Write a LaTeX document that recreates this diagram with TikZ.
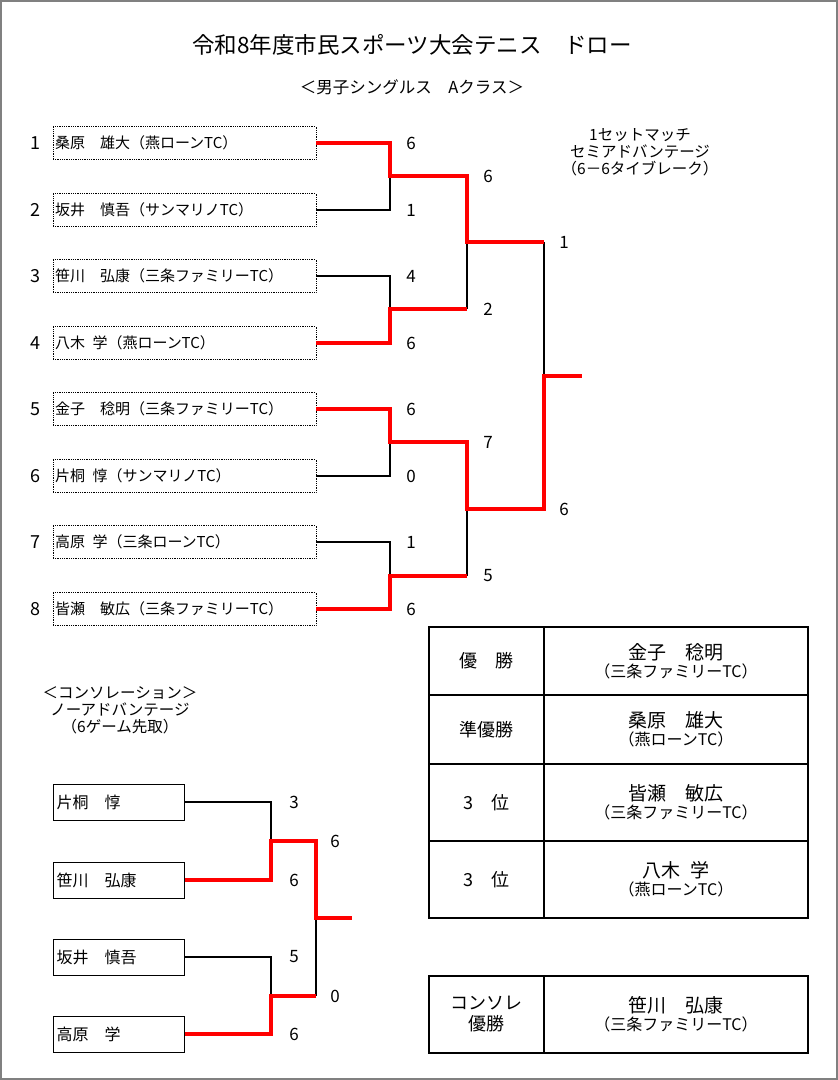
\documentclass[tikz,border=0pt]{standalone}
\usepackage{fontspec}
\setmainfont{Noto Sans CJK JP}
\begin{document}
\begin{tikzpicture}[x=1pt,y=-1pt,
  pl/.style={draw,densely dotted,line width=0.8pt,minimum width=263pt,minimum height=33pt,inner sep=0pt,font=\fontsize{15}{17}\selectfont,text width=259pt,align=left},
  cb/.style={draw,line width=1pt,minimum width=131pt,minimum height=36pt,inner sep=0pt,font=\fontsize{16}{18}\selectfont,text width=124pt,align=left},
  bl/.style={line width=1.6pt},
  rd/.style={line width=3.2pt,red},
  sc/.style={font=\fontsize{17}{19}\selectfont},
  tx/.style={font=\fontsize{16}{18}\selectfont,align=center},
  hd/.style={font=\fontsize{18}{22}\selectfont,align=center},
  tb/.style={line width=1.6pt}]
\useasboundingbox (0,0) rectangle (838,1080);
\draw[gray,line width=1.2pt] (1,1) rectangle (837,1079);
\node[font=\fontsize{22.5}{26}\selectfont] (title) at (412,45) {令和8年度市民スポーツ大会テニス\quad ドロー};
\node[font=\fontsize{16.5}{19}\selectfont] (sub) at (412,87) {＜男子シングルス\quad Aクラス＞};
\node[font=\fontsize{15.5}{17}\selectfont,align=center] (note) at (640,152) {1セットマッチ\\セミアドバンテージ\\（6－6タイブレーク）};
% players
\foreach \i/\y/\t in {1/143/桑原\quad 雄大（燕ローンTC）,2/210/坂井\quad 慎吾（サンマリノTC）,3/276/笹川\quad 弘康（三条ファミリーTC）,4/343/八木\enspace 学（燕ローンTC）,5/409/金子\quad 稔明（三条ファミリーTC）,6/476/片桐\enspace 惇（サンマリノTC）,7/542/高原\enspace 学（三条ローンTC）,8/609/皆瀬\quad 敏広（三条ファミリーTC）}{
  \node[pl] (p\i) at (184.5,\y) {\t};
  \node[font=\fontsize{18}{20}\selectfont] (n\i) at (35,\y) {\i};
}
\coordinate (a1) at (390,176); \coordinate (a2) at (390,309);
\coordinate (a3) at (390,442); \coordinate (a4) at (390,576);
\coordinate (b1) at (467,242); \coordinate (b2) at (467,509);
\coordinate (c) at (544,376); \coordinate (w) at (582,376);
% black
\draw[bl] (p2.east) -| (a1);
\draw[bl] (p3.east) -| (a2);
\draw[bl] (p6.east) -| (a3);
\draw[bl] (p7.east) -| (a4);
\draw[bl] (b1) -- (467,309);
\draw[bl] (b2) -- (467,576);
\draw[bl] (544,242) -- (c);
% red
\draw[rd,line join=miter] (p1.east) -| (a1) -- (467,176) -- (b1) -- (544,242);
\draw[rd,line join=miter] (p4.east) -| (a2) -- (467,309);
\draw[rd,line join=miter] (p5.east) -| (a3) -- (467,442) -- (b2) -- (544,509) -- (c) -- (w);
\draw[rd,line join=miter] (p8.east) -| (a4) -- (467,576);
% scores
\foreach \y/\s [count=\k] in {143/6,210/1,276/4,343/6,409/6,476/0,542/1,609/6}{\node[sc] (s\k) at (411,\y) {\s};}
\foreach \y/\s [count=\k] in {176/6,309/2,442/7,576/5}{\node[sc] (r\k) at (488,\y) {\s};}
\node[sc] (f1) at (564,242) {1};
\node[sc] (f2) at (564,509) {6};
% result table
\draw[tb] (429,627) rectangle (808,918);
\draw[tb] (544,627) -- (544,918);
\foreach \y in {695,764,841}{\draw[tb] (429,\y) -- (808,\y);}
\node[hd] (h1) at (486.5,661) {優\quad 勝};
\node[hd] (h2) at (486.5,729.5) {準優勝};
\node[hd] (h3) at (486.5,802.5) {3\quad 位};
\node[hd] (h4) at (486.5,879.5) {3\quad 位};
\node[tx] (v1) at (676,661) {\fontsize{19}{21}\selectfont 金子\quad 稔明\\（三条ファミリーTC）};
\node[tx] (v2) at (676,729.5) {\fontsize{19}{21}\selectfont 桑原\quad 雄大\\（燕ローンTC）};
\node[tx] (v3) at (676,802.5) {\fontsize{19}{21}\selectfont 皆瀬\quad 敏広\\（三条ファミリーTC）};
\node[tx] (v4) at (676,879.5) {\fontsize{19}{21}\selectfont 八木\enspace 学\\（燕ローンTC）};
\draw[tb] (429,976) rectangle (808,1053);
\draw[tb] (544,976) -- (544,1053);
\node[hd,font=\fontsize{18}{21}\selectfont] (h5) at (486.5,1014.5) {コンソレ\\優勝};
\node[tx] (v5) at (676,1014.5) {\fontsize{19}{21}\selectfont 笹川\quad 弘康\\（三条ファミリーTC）};
% consolation
\node[font=\fontsize{15.5}{17}\selectfont,align=center] (ctitle) at (120,710) {＜コンソレーション＞\\ノーアドバンテージ\\（6ゲーム先取）};
\foreach \i/\y/\t in {1/802/片桐\quad 惇,2/880/笹川\quad 弘康,3/957/坂井\quad 慎吾,4/1034/高原\quad 学}{
  \node[cb] (q\i) at (118.5,\y) {\t};
}
\coordinate (d1) at (271,841); \coordinate (d2) at (271,996);
\coordinate (e) at (316,918); \coordinate (cw) at (352,918);
\draw[bl] (q1.east) -| (d1);
\draw[bl] (q3.east) -| (d2);
\draw[bl] (e) -- (316,996);
\draw[rd,line join=miter] (q2.east) -| (d1) -- (316,841) -- (e) -- (cw);
\draw[rd,line join=miter] (q4.east) -| (d2) -- (316,996);
\foreach \y/\s [count=\k] in {802/3,880/6,957/5,1034/6}{\node[sc] (t\k) at (294,\y) {\s};}
\node[sc] (u1) at (335,841) {6};
\node[sc] (u2) at (335,996) {0};
\end{tikzpicture}
\end{document}
